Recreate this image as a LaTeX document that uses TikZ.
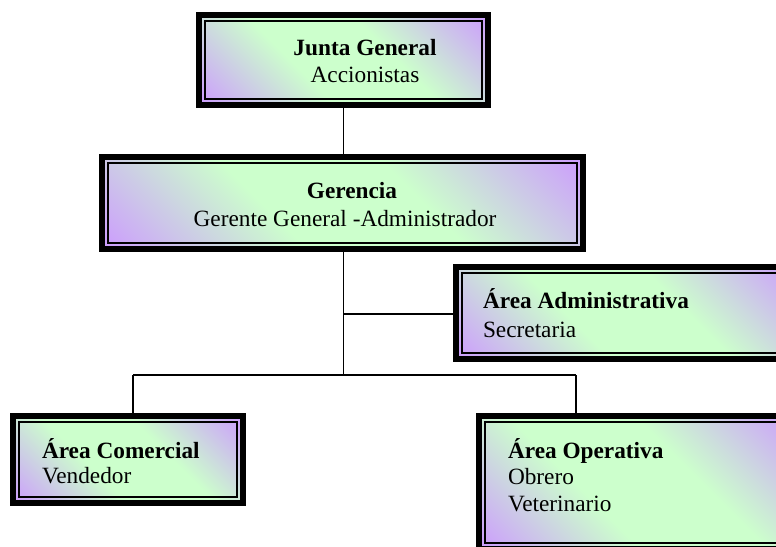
\documentclass[tikz,border=0pt]{standalone}
\usepackage{fontspec}
\setmainfont{Liberation Serif}
\definecolor{lav}{RGB}{204,153,255}
\definecolor{grn}{RGB}{204,255,204}
\pgfdeclarehorizontalshading{orgshade}{100bp}{color(0bp)=(lav); color(14bp)=(lav); color(40bp)=(grn); color(60bp)=(grn); color(86bp)=(lav); color(100bp)=(lav)}
\tikzset{
  orgbox/.style={rectangle, inner sep=0pt, outer sep=0pt, shading=orgshade, shading angle=45,
    draw=black, line width=6pt,
    path picture={\draw[line width=1.7pt]
      ([shift={(5.9pt,-5.9pt)}]path picture bounding box.north west) rectangle
      ([shift={(-5.9pt,5.9pt)}]path picture bounding box.south east);}},
  conn/.style={draw=black, line width=1.5pt},
  txt/.style={inner sep=0pt, outer sep=0pt, font=\fontsize{23.3}{27}\selectfont},
  txtb/.style={inner sep=0pt, outer sep=0pt, font=\fontsize{23.3}{27}\selectfont\bfseries}
}
\begin{document}
\begin{tikzpicture}[x=1pt,y=-1pt]
\useasboundingbox (0,0) rectangle (776,546);
\fill[white] (0,0) rectangle (776,546);
\clip (0,0) rectangle (776,546);
% boxes
\node[orgbox, minimum width=289pt, minimum height=90pt] (junta) at (343.5,60) {};
\node[orgbox, minimum width=481pt, minimum height=92pt] (geren) at (342.5,203) {};
\node[orgbox, minimum width=341pt, minimum height=92pt] (adm) at (626.5,313) {};
\node[orgbox, minimum width=230pt, minimum height=87pt] (com) at (128,459.5) {};
\node[orgbox, minimum width=318pt, minimum height=133pt] (ope) at (638,482.5) {};
% connectors
\coordinate (hubA) at (343.5,314);
\coordinate (hubB) at (343.5,375);
\coordinate (lc) at (133,375);
\coordinate (rc) at (576,375);
\draw[conn] (junta.south) -- (junta.south |- geren.north);
\draw[conn] (junta.south |- geren.south) -- (hubB);
\draw[conn] (hubA) -- (adm.west |- hubA);
\draw[conn] (lc) -- (rc);
\draw[conn] (lc) -- (lc |- com.north);
\draw[conn] (rc) -- (rc |- ope.north);
% texts
\node[txtb, anchor=base] (jt1) at (365,55) {Junta General};
\node[txt, anchor=base] (jt2) at (365,82) {Accionistas};
\node[txtb, anchor=base] (gt1) at (352,198) {Gerencia};
\node[txt, anchor=base] (gt2) at (345,226) {Gerente General -Administrador};
\node[txtb, anchor=base west] (at1) at (483,308) {Área Administrativa};
\node[txt, anchor=base west] (at2) at (483,337) {Secretaria};
\node[txtb, anchor=base west] (ct1) at (42,458) {Área Comercial};
\node[txt, anchor=base west] (ct2) at (42,483) {Vendedor};
\node[txtb, anchor=base west] (ot1) at (508,458) {Área Operativa};
\node[txt, anchor=base west] (ot2) at (508,484) {Obrero};
\node[txt, anchor=base west] (ot3) at (508,511) {Veterinario};
\end{tikzpicture}
\end{document}
